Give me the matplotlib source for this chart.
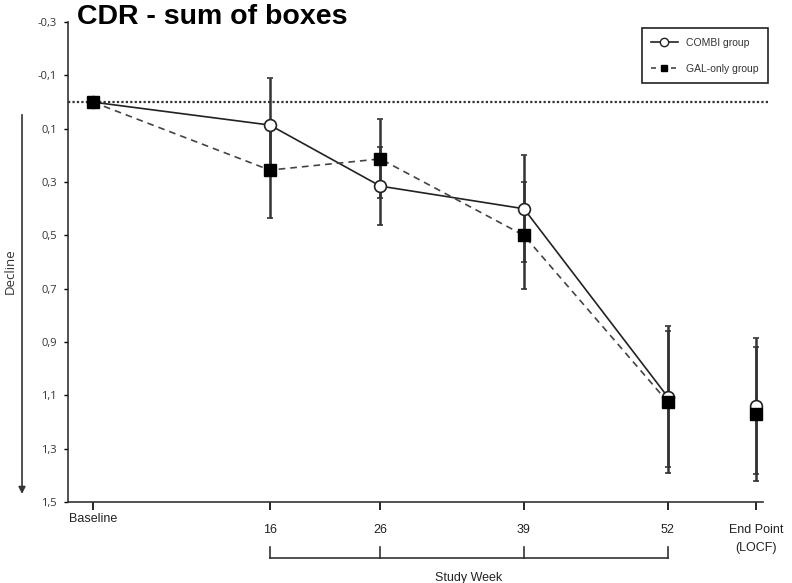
import numpy as np
import matplotlib.pyplot as plt
from matplotlib.transforms import blended_transform_factory, ScaledTranslation

# study weeks (End Point placed after week 52)
weeks = [0, 16, 26, 39, 52, 60]
week_labels = ['Baseline', '16', '26', '39', '52', 'End Point\n(LOCF)']

combi_mean = [0.0, 0.086, 0.315, 0.40, 1.105, 1.14]
combi_err = [0.0, 0.176, 0.146, 0.20, 0.265, 0.256]
gal_mean = [0.0, 0.255, 0.213, 0.50, 1.124, 1.17]
gal_err = [0.0, 0.179, 0.148, 0.20, 0.266, 0.25]

y_ticks = np.arange(-0.3, 1.51, 0.2)
bracket_weeks = [16, 26, 39, 52]

fig = plt.figure(figsize=(7.92, 5.83), dpi=100)
ax = fig.add_axes([0.0859, 0.139, 0.877, 0.823])

ax.errorbar(weeks, combi_mean, yerr=combi_err, fmt='none', ecolor='#333333',
            elinewidth=1.8, capsize=2.5, capthick=1.2, zorder=2)
ax.errorbar(weeks, gal_mean, yerr=gal_err, fmt='none', ecolor='#333333',
            elinewidth=1.8, capsize=2.5, capthick=1.2, zorder=2)
# trend lines, joined only up to week 52
ax.plot(weeks[:5], combi_mean[:5], color='#222222', lw=1.2, zorder=3)
ax.plot(weeks[:5], gal_mean[:5], color='#444444', lw=1.2, ls=(0, (4, 3)), zorder=3)
ax.plot(weeks, combi_mean, ls='none', marker='o', ms=8.5, mfc='white',
        mec='#222222', mew=1.2, zorder=4)
ax.plot(weeks, gal_mean, ls='none', marker='s', ms=8.5, mfc='black',
        mec='black', zorder=5)

ax.axhline(0, xmin=0, xmax=1.01, color='#333333', lw=1.6, ls=(0, (1, 1)),
           clip_on=False, zorder=1)

ax.set_xlim(-2.26, 60.6)
ax.set_ylim(1.5, -0.3)
ax.set_yticks(y_ticks)
ax.set_yticklabels([f'{v:.1f}'.replace('.', ',') for v in y_ticks],
                   fontsize=8, family='Open Sans', color='#333333')
ax.set_xticks(weeks)
ax.set_xticklabels(week_labels, fontsize=9, family='Liberation Sans',
                   color='#222222', linespacing=1.6)
ax.tick_params(axis='x', direction='out', length=6, width=1.2, pad=10)
ax.tick_params(axis='y', direction='out', length=3, width=1, pad=5)
for lab in ax.get_xticklabels():
    if lab.get_text() == 'Baseline':
        lab.set_transform(lab.get_transform() +
                          ScaledTranslation(0, 8 / 72, fig.dpi_scale_trans))

for side in ['top', 'right']:
    ax.spines[side].set_visible(False)
for side in ['left', 'bottom']:
    ax.spines[side].set_linewidth(1.2)
    ax.spines[side].set_color('#333333')

# study week bracket
tr = blended_transform_factory(ax.transData, ax.transAxes)
ax.plot([bracket_weeks[0], bracket_weeks[-1]], [-0.117, -0.117], color='#333333',
        lw=1.2, transform=tr, clip_on=False)
for w in bracket_weeks:
    ax.plot([w, w], [-0.117, -0.094], color='#333333', lw=1.2,
            transform=tr, clip_on=False)
ax.text(np.mean([bracket_weeks[0], bracket_weeks[-1]]), -0.158, 'Study Week',
        transform=tr, ha='center', va='center', fontsize=9,
        family='Liberation Sans', color='#222222')

# decline arrow
fig.add_artist(plt.Annotation('', xy=(0.0278, 0.148), xytext=(0.0278, 0.808),
                              xycoords='figure fraction',
                              arrowprops=dict(arrowstyle='-|>', color='#333333',
                                              lw=1.2, mutation_scale=10)))
fig.text(0.013, 0.535, 'Decline', rotation=90, ha='center', va='center',
         fontsize=9.5, family='Open Sans', color='#333333')

fig.text(0.097, 0.959, 'CDR - sum of boxes', fontsize=20.5, fontweight='bold',
         family='Liberation Sans', va='baseline', ha='left')

h1, = ax.plot([], [], color='#222222', lw=1.2, marker='o', ms=6, mfc='white',
              mec='#222222')
h2, = ax.plot([], [], color='#444444', lw=1.2, ls=(0, (3, 3)), marker='s', ms=5,
              mfc='black', mec='black')
leg = ax.legend([h1, h2], ['COMBI group', 'GAL-only group'], loc='upper right',
                bbox_to_anchor=(0.970, 0.952), bbox_transform=fig.transFigure,
                borderaxespad=0, fancybox=False, framealpha=1, edgecolor='#222222',
                labelspacing=1.5, handlelength=2.5, handletextpad=0.8,
                borderpad=0.95, prop={'family': 'Liberation Sans', 'size': 7.5})
leg.get_frame().set_linewidth(1.2)
for t in leg.get_texts():
    t.set_color('#333333')

fig.savefig('out.png', dpi=100)
